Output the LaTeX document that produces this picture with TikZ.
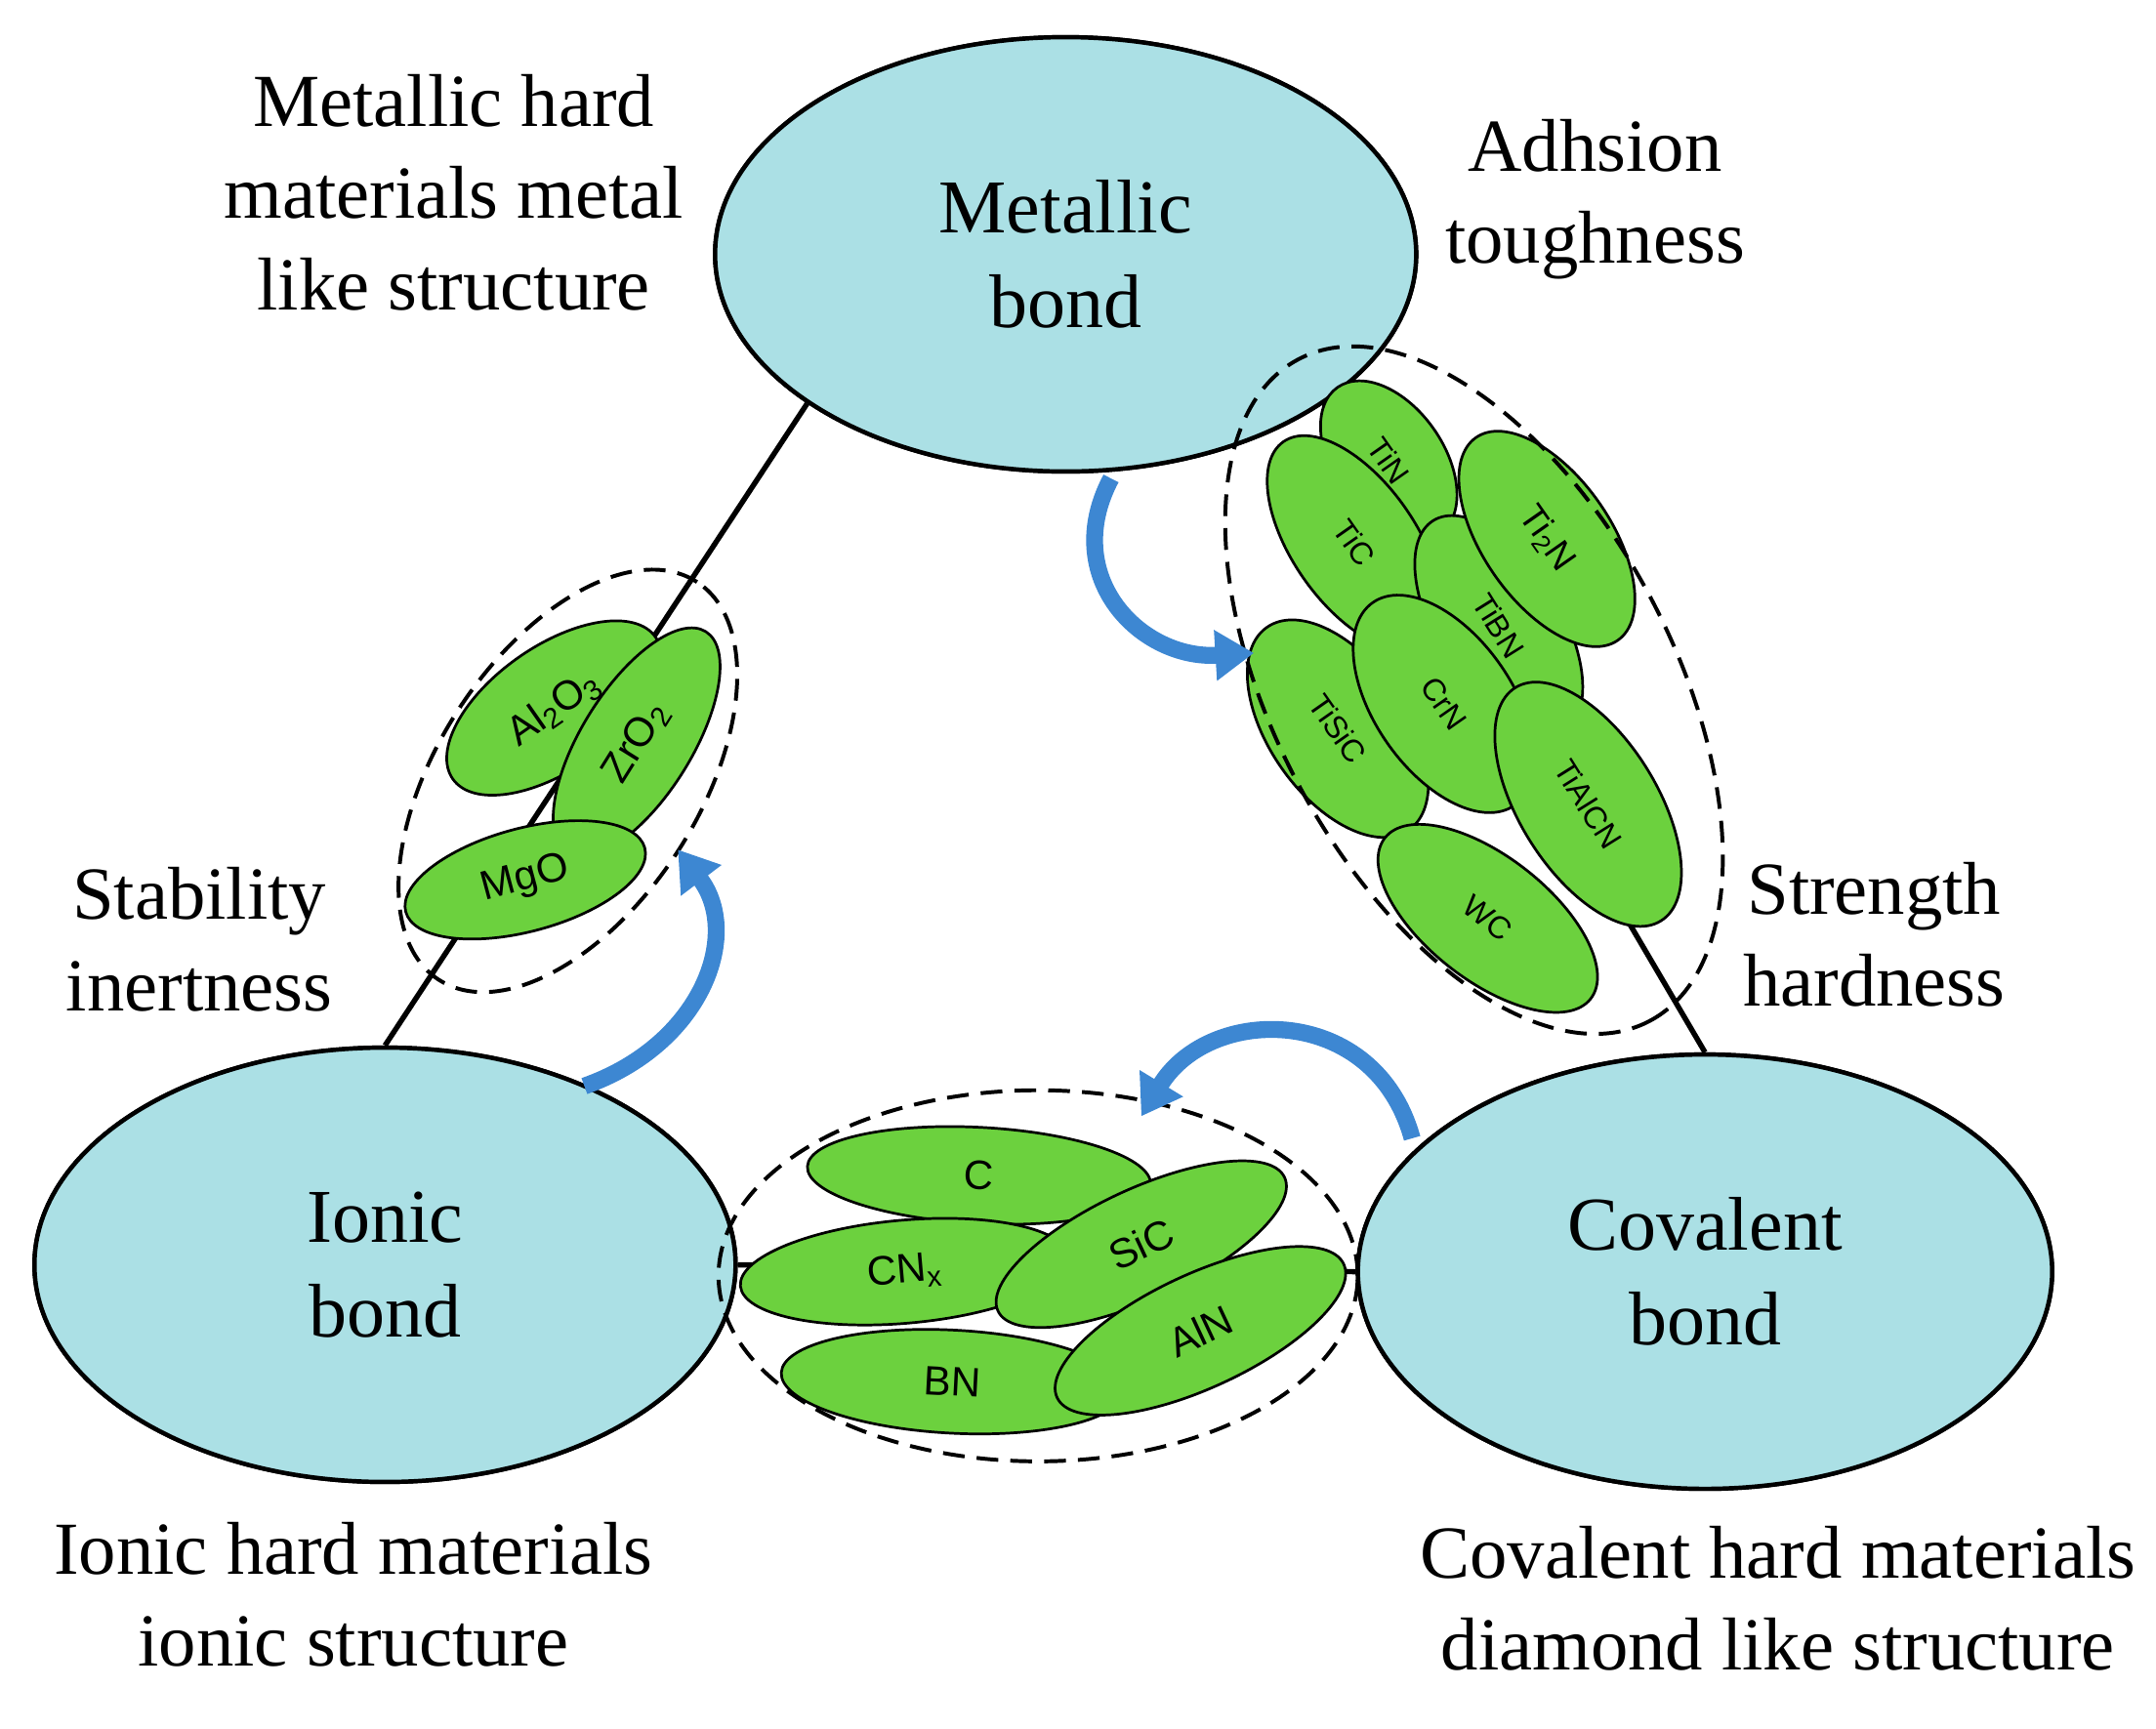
\documentclass[tikz,border=0pt]{standalone}
\usepackage{fontspec}
\setmainfont{Liberation Serif}
\newfontfamily\gsans{Liberation Sans}
\usetikzlibrary{shapes.geometric,arrows.meta}
\definecolor{bondc}{HTML}{ABE0E5}
\definecolor{grn}{HTML}{6CD13E}
\definecolor{arr}{HTML}{3D87D2}
\begin{document}
\begin{tikzpicture}[x=0.02cm,y=-0.02cm,
 bond/.style={ellipse,draw,line width=1.8pt,fill=bondc,inner sep=0,align=center,font=\fontsize{31.5}{39}\selectfont},
 g/.style={ellipse,draw,line width=1.1pt,fill=grn,inner sep=0,font=\gsans\fontsize{17}{20}\selectfont},
 gs/.style={g,font=\gsans\fontsize{13}{15}\selectfont},
 dsh/.style={ellipse,draw,dashed,line width=1.6pt,dash pattern=on 9pt off 5pt,inner sep=0},
 lab/.style={align=center,font=\fontsize{31}{38}\selectfont},
 conn/.style={line width=2.2pt},
 barr/.style={arr,line width=7pt,-{Triangle[length=16pt,width=20pt]}}]
\useasboundingbox (0,0) rectangle (1568,1257);
\path (775,185) node[bond,minimum width=10.2cm,minimum height=6.32cm] (met) {}
      (280,920) node[bond,minimum width=10.2cm,minimum height=6.32cm] (ion) {}
      (1240,925) node[bond,minimum width=10.1cm,minimum height=6.32cm] (cov) {};
\draw[conn] (met.210) -- (ion.north);
\draw[conn] (met.-30) -- (cov.north);
\draw[conn] (ion.east) -- (cov.west);
\node[bond,minimum width=10.2cm,minimum height=6.32cm] (metb) at (775,185) {Metallic\\bond};
\node[bond,minimum width=10.2cm,minimum height=6.32cm] (ionb) at (280,920) {Ionic\\bond};
\node[bond,minimum width=10.1cm,minimum height=6.32cm] (covb) at (1240,925) {Covalent\\bond};
% left cluster
\node[g,minimum width=3.6cm,minimum height=1.8cm,rotate=35] (al) at (403,515) {Al\textsubscript{2}O\textsubscript{3}};
\node[g,minimum width=3.8cm,minimum height=1.6cm,rotate=58] (zr) at (463,540) {ZrO\textsubscript{2}};
\node[g,minimum width=3.6cm,minimum height=1.5cm,rotate=15] (mg) at (382,640) {MgO};
\node[dsh,minimum width=6.9cm,minimum height=3.8cm,rotate=57] (dl) at (413,568) {};
% right cluster
\node[gs,minimum width=2.6cm,minimum height=1.6cm,rotate=-55] (tin) at (1010,335) {TiN};
\node[gs,minimum width=3.6cm,minimum height=1.8cm,rotate=-55] (tic) at (985,395) {TiC};
\node[gs,minimum width=3.6cm,minimum height=1.8cm,rotate=-58] (tibn) at (1090,455) {TiBN};
\node[g,font=\gsans\fontsize{15}{18}\selectfont,minimum width=3.6cm,minimum height=1.85cm,rotate=-55] (ti2n) at (1125,392) {Ti\textsubscript{2}N};
\node[gs,minimum width=3.6cm,minimum height=2cm,rotate=-55] (tisic) at (973,530) {TiSiC};
\node[gs,minimum width=3.6cm,minimum height=2cm,rotate=-55] (crn) at (1050,512) {CrN};
\node[gs,minimum width=4cm,minimum height=2cm,rotate=-58] (tialcn) at (1155,585) {TiAlCN};
\node[gs,minimum width=3.8cm,minimum height=1.8cm,rotate=-38] (wc) at (1082,668) {WC};
\node[dsh,minimum width=10.9cm,minimum height=5.8cm,rotate=-62] (dr) at (1072,502) {};
% bottom cluster
\node[g,minimum width=5cm,minimum height=1.4cm,rotate=-3] (c) at (712,855) {C};
\node[g,minimum width=4.8cm,minimum height=1.5cm,rotate=5] (cnx) at (658,925) {CN\textsubscript{x}};
\node[g,minimum width=4.6cm,minimum height=1.6cm,rotate=25] (sic) at (830,905) {SiC};
\node[g,minimum width=5cm,minimum height=1.5cm,rotate=-3] (bn) at (693,1005) {BN};
\node[g,minimum width=4.6cm,minimum height=1.65cm,rotate=25] (aln) at (873,968) {AlN};
\node[dsh,minimum width=9.3cm,minimum height=5.4cm] (db) at (755,928) {};
% arrows
\coordinate (a1s) at (808,348); \coordinate (a1e) at (912,475);
\draw[barr] (a1s) .. controls (770,420) and (830,480) .. (a1e);
\coordinate (a2s) at (425,790); \coordinate (a2e) at (493,618);
\draw[barr] (a2s) .. controls (510,760) and (540,680) .. (a2e);
\coordinate (a3s) at (1027,828); \coordinate (a3e) at (830,812);
\draw[barr] (a3s) .. controls (1000,730) and (880,730) .. (a3e);
% labels
\node[lab] (t1) at (330,140) {Metallic hard\\materials metal\\like structure};
\node[lab] (t2) at (1160,145) {Adhsion\\toughness};
\node[lab] (t3) at (145,683) {Stability\\inertness};
\node[lab] (t4) at (1363,680) {Strength\\hardness};
\node[lab] (t5) at (257,1160) {Ionic hard materials\\ionic structure};
\node[lab] (t6) at (1293,1163) {Covalent hard materials\\diamond like structure};
\end{tikzpicture}
\end{document}
